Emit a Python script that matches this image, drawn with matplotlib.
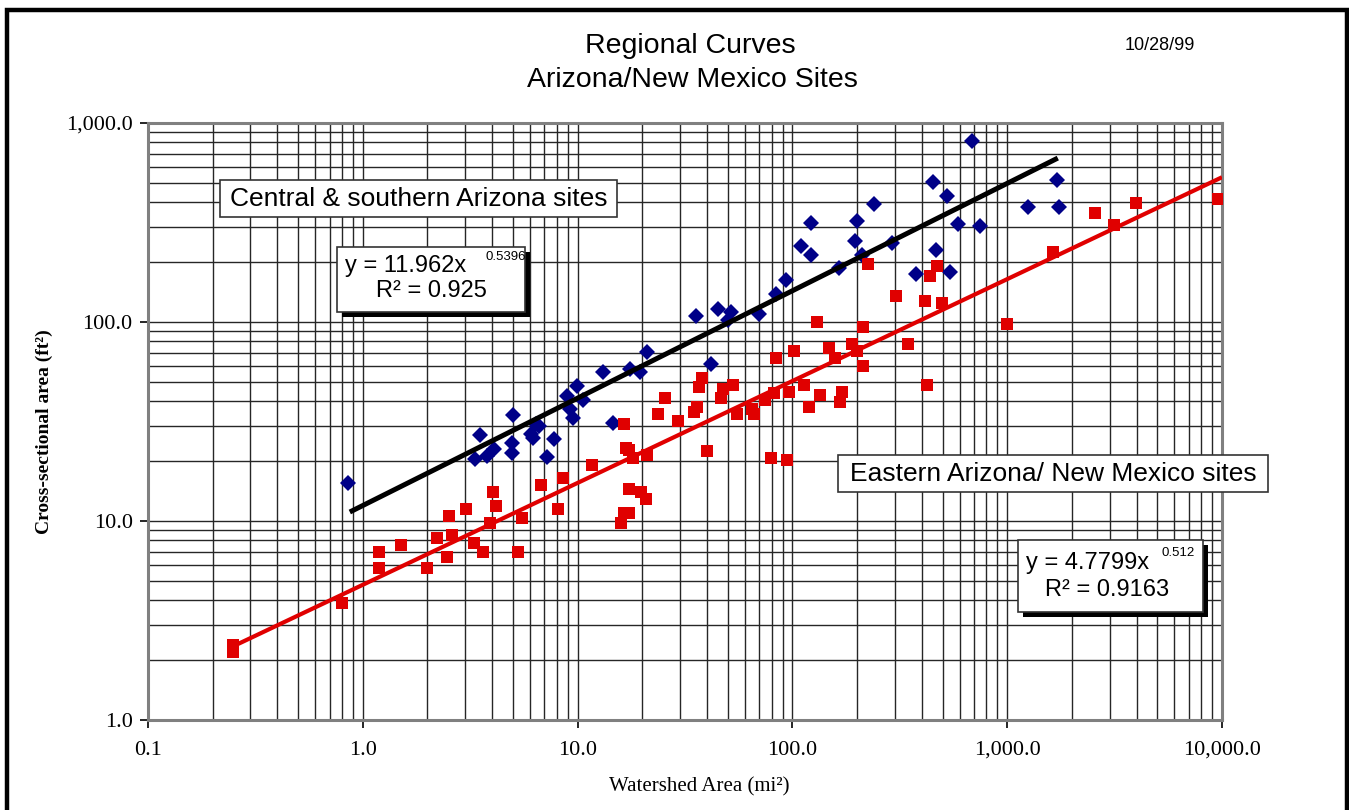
import matplotlib
matplotlib.use("Agg")
import matplotlib.pyplot as plt
import numpy as np
from matplotlib.ticker import FuncFormatter, LogLocator, NullFormatter
from matplotlib.patches import Rectangle

# ---------------- data ----------------
central_x = [0.85, 3.32, 3.5, 3.78, 4.07, 4.94, 4.94, 5.0, 6.06, 6.2, 6.4, 6.6, 7.2, 7.8,
             8.9, 9.2, 9.5, 9.9, 10.6, 13.1, 14.6, 17.6, 19.5, 21, 35.5, 42, 45, 50, 52,
             70, 84, 93, 110, 122, 122, 165, 195, 200, 210, 241, 290, 375, 450, 465, 525,
             540, 590, 685, 750, 1250, 1700, 1750]
central_y = [15.5, 20.5, 27, 21.2, 23, 22, 24.7, 34, 27.4, 26.1, 30.7, 30, 21, 25.8,
             42.5, 36.6, 33, 47.7, 40.5, 56, 31, 58, 56, 70.6, 107, 61.5, 116, 102, 112,
             110, 138, 163, 241, 314, 217, 187, 255, 322, 217, 392, 249, 174, 505, 230, 430,
             178, 311, 812, 303, 378, 517, 378]

eastern_x = [0.25, 0.25, 0.80, 1.19, 1.19, 1.50, 1.98, 2.21, 2.46, 2.51, 2.60, 3.02, 3.28,
             3.62, 3.90, 4.02, 4.16, 5.27, 5.50, 6.74, 8.09, 8.52, 11.65, 15.9, 16.4, 17.3,
             16.4, 16.8, 17.3, 18.2, 17.3, 19.7, 20.8, 21.1, 23.6, 25.5, 29.3, 34.8, 35.9,
             36.6, 37.9, 40.0, 46.4, 47.5, 52.8, 55.5, 65.0, 66.5, 74.2, 79.9, 81.7, 84.3,
             94.2, 96.4, 101.3, 112.8, 118.9, 130.8, 134.7, 148.7, 157.1, 165.7, 169.4,
             190.1, 200.4, 214.0, 214.0, 226.0, 302.6, 344.6, 415.0, 424.0, 437.7, 469.0,
             495.0, 995, 1627, 2554, 3136, 3960, 9560]
eastern_y = [2.38, 2.20, 3.87, 7.0, 5.8, 7.57, 5.8, 8.2, 6.6, 10.6, 8.5, 11.5, 7.75,
             7.0, 9.76, 14.0, 11.9, 7.0, 10.4, 15.2, 11.5, 16.4, 19.1, 9.77, 11.0, 11.0,
             30.7, 23.2, 22.7, 20.7, 14.5, 14.0, 12.9, 21.5, 34.5, 41.4, 31.8, 35.4, 37.4,
             47.1, 52.4, 22.5, 41.4, 46.0, 48.3, 34.5, 36.5, 34.5, 40.5, 20.7, 44.1, 65.7,
             20.2, 44.5, 71.2, 48.3, 37.4, 100.0, 42.9, 74.0, 65.7, 39.7, 44.5,
             77.6, 71.2, 94.4, 60.0, 195, 135, 77.6, 128, 48.3, 170, 191,
             124, 98, 226, 354, 307, 396, 417]

# power-law trend lines (coefficients as displayed on chart)
central_a, central_b, central_r2 = 11.962, 0.5396, 0.925
central_range = (0.87, 1720)
eastern_a, eastern_b, eastern_r2 = 4.7799, 0.512, 0.9163
eastern_range = (0.25, 10000)

x_ticks = [0.1, 1, 10, 100, 1000, 10000]
y_ticks = [1, 10, 100, 1000]

title_lines = ["Regional Curves", "Arizona/New Mexico Sites"]
date_text = "10/28/99"
xlabel = "Watershed Area (mi\u00b2)"
ylabel = "Cross-sectional area (ft\u00b2)"
label_central = "Central & southern Arizona sites"
label_eastern = "Eastern Arizona/ New Mexico sites"

# ---------------- figure ----------------
W, H = 1349, 810
fig = plt.figure(figsize=(W / 100, H / 100), dpi=100)
fig.patch.set_facecolor("white")

def fx(px):
    return px / W

def fy(py):
    return 1 - py / H

ax_l, ax_r, ax_t, ax_b = 148, 1222, 123, 720
ax = fig.add_axes([fx(ax_l), fy(ax_b), fx(ax_r) - fx(ax_l), fy(ax_t) - fy(ax_b)])
ax.set_xscale("log")
ax.set_yscale("log")
ax.set_xlim(0.1, 10000)
ax.set_ylim(1, 1000)

ax.xaxis.set_minor_locator(LogLocator(base=10, subs=np.arange(2, 10), numticks=20))
ax.yaxis.set_minor_locator(LogLocator(base=10, subs=np.arange(2, 10), numticks=20))
ax.set_xticks(x_ticks)
ax.set_yticks(y_ticks)
fmt = FuncFormatter(lambda v, p: f"{v:,.1f}")
ax.xaxis.set_major_formatter(fmt)
ax.yaxis.set_major_formatter(fmt)
ax.xaxis.set_minor_formatter(NullFormatter())
ax.yaxis.set_minor_formatter(NullFormatter())

serif = "Liberation Serif"
sans = "Liberation Sans"
for lab in ax.get_xticklabels() + ax.get_yticklabels():
    lab.set_fontfamily(serif)
    lab.set_fontsize(16)
ax.tick_params(which="major", direction="out", length=6, width=1.2, color="black")
ax.tick_params(which="minor", length=0)
ax.tick_params(axis="x", which="major", pad=9)
ax.tick_params(axis="y", which="major", pad=5)

ax.grid(which="both", color="#262626", linewidth=1.0)
ax.set_axisbelow(True)
for s in ax.spines.values():
    s.set_color("#808080")
    s.set_linewidth(2.2)

# points
ax.plot(central_x, central_y, linestyle="none", marker="D", markersize=8.0,
        color="#000088", markeredgewidth=0, zorder=3)
ax.plot(eastern_x, eastern_y, linestyle="none", marker="s", markersize=8.2,
        color="#E00000", markeredgewidth=0, zorder=3)

# trend lines
xc = np.logspace(np.log10(central_range[0]), np.log10(central_range[1]), 200)
ax.plot(xc, central_a * xc ** central_b, color="black", linewidth=3.6, zorder=4,
        solid_capstyle="butt")
xe = np.logspace(np.log10(eastern_range[0]), np.log10(eastern_range[1]), 200)
ax.plot(xe, eastern_a * xe ** eastern_b, color="#E00000", linewidth=3.0, zorder=4,
        solid_capstyle="butt")

# ---------------- annotations ----------------
def box(x0, y0, x1, y1, shadow=False):
    if shadow:
        fig.patches.append(Rectangle((fx(x0 + 5), fy(y1 + 5)), fx(x1) - fx(x0), fy(y0) - fy(y1),
                                     transform=fig.transFigure, facecolor="black",
                                     edgecolor="black", linewidth=0, zorder=5))
    fig.patches.append(Rectangle((fx(x0), fy(y1)), fx(x1) - fx(x0), fy(y0) - fy(y1),
                                 transform=fig.transFigure, facecolor="white",
                                 edgecolor="#333333", linewidth=1.2, zorder=6))

box(220, 180, 617, 217)
fig.text(fx(419), fy(199), label_central, family=sans, fontsize=19, ha="center",
         va="center", zorder=7)
box(838, 455, 1268, 492)
fig.text(fx(1053), fy(474), label_eastern, family=sans, fontsize=19, ha="center",
         va="center", zorder=7)

box(337, 247, 525, 312, shadow=True)
fig.text(fx(345), fy(266), f"y = {central_a:.3f}x", family=sans, fontsize=17,
         ha="left", va="center", zorder=7)
fig.text(fx(485), fy(257), f"{central_b:.4f}", family=sans, fontsize=9.5,
         ha="left", va="center", zorder=7)
fig.text(fx(431), fy(291), f"R\u00b2 = {central_r2:.3f}", family=sans, fontsize=17,
         ha="center", va="center", zorder=7)

box(1018, 540, 1203, 612, shadow=True)
fig.text(fx(1026), fy(563), f"y = {eastern_a:.4f}x", family=sans, fontsize=17,
         ha="left", va="center", zorder=7)
fig.text(fx(1162), fy(553), f"{eastern_b:.3f}", family=sans, fontsize=9.5,
         ha="left", va="center", zorder=7)
fig.text(fx(1107), fy(590), f"R\u00b2 = {eastern_r2:.4f}", family=sans, fontsize=17,
         ha="center", va="center", zorder=7)

# titles
fig.text(fx(690), fy(46), title_lines[0], family=sans, fontsize=20.5, ha="center", va="center")
fig.text(fx(692), fy(80), title_lines[1], family=sans, fontsize=20.5, ha="center", va="center")
fig.text(fx(1160), fy(46), date_text, family=sans, fontsize=13, ha="center", va="center")

# axis labels
fig.text(fx(699), fy(787), xlabel, family=serif, fontsize=15, ha="center", va="center")
fig.text(fx(44), fy(432), ylabel, family=serif, fontsize=14, ha="center", va="center",
         rotation=90, weight="bold")

# outer frame
fig.patches.append(Rectangle((fx(7), fy(840)), fx(1347) - fx(7), fy(10) - fy(840),
                             transform=fig.transFigure, facecolor="none",
                             edgecolor="black", linewidth=3.2, zorder=10, clip_on=False))

fig.savefig("out.png", dpi=100, facecolor="white")
